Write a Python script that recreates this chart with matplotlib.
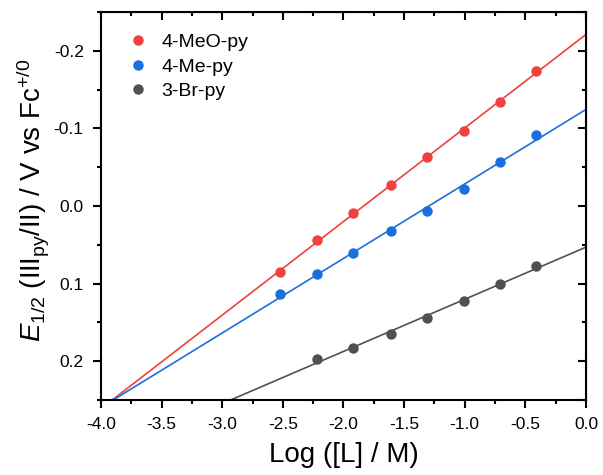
import numpy as np
import matplotlib
matplotlib.use('Agg')
import matplotlib.pyplot as plt
from matplotlib.ticker import MultipleLocator

plt.rcParams['font.family'] = ['Liberation Sans', 'DejaVu Sans']
plt.rcParams['mathtext.fontset'] = 'custom'
plt.rcParams['mathtext.rm'] = 'Liberation Sans'
plt.rcParams['mathtext.it'] = 'Liberation Sans:italic'
plt.rcParams['mathtext.bf'] = 'Liberation Sans:bold'

# log of ligand concentration
log_L = [-2.52, -2.22, -1.92, -1.61, -1.31, -1.01, -0.71, -0.41]

# half-wave potentials (V vs Fc+/0)
e_meo = [0.085, 0.044, 0.009, -0.027, -0.063, -0.097, -0.134, -0.174]
e_me = [0.113, 0.088, 0.061, 0.032, 0.006, -0.022, -0.057, -0.092]
e_br = [0.197, 0.183, 0.165, 0.144, 0.123, 0.100, 0.077]
log_L_br = log_L[1:]

series = [
    ('4-MeO-py', log_L, e_meo, '#F14040'),
    ('4-Me-py', log_L, e_me, '#1A6FDF'),
    ('3-Br-py', log_L_br, e_br, '#515151'),
]

fig = plt.figure(figsize=(6.03, 4.75), dpi=100)
ax = fig.add_axes([0.1675, 0.158, 0.8043, 0.8167])

xfit = np.linspace(-4.0, 0.0, 200)
for name, x, y, c in series:
    slope, icpt = np.polyfit(x, y, 1)
    ax.plot(xfit, slope * xfit + icpt, color=c, lw=1.2, zorder=2)
    ax.plot(x, y, 'o', color=c, ms=7.5, mec='none', label=name, zorder=3)

ax.set_xlim(-4.0, 0.0)
ax.set_ylim(0.25, -0.25)
ax.xaxis.set_major_locator(MultipleLocator(0.5))
ax.xaxis.set_minor_locator(MultipleLocator(0.25))
ax.yaxis.set_major_locator(MultipleLocator(0.1))
ax.yaxis.set_minor_locator(MultipleLocator(0.05))
ax.xaxis.set_major_formatter(plt.FuncFormatter(lambda v, p: f'{v:.1f}'))
ax.yaxis.set_major_formatter(plt.FuncFormatter(lambda v, p: f'{v:.1f}'))

for s in ax.spines.values():
    s.set_linewidth(1.5)
ax.tick_params(which='both', direction='out', width=1.5, labelsize=12.5,
               top=False, right=False)
ax.tick_params(which='major', length=5.5, pad=7)
ax.tick_params(which='minor', length=3)

# mirrored inward ticks on top and right
axt = ax.secondary_xaxis('top')
axt.xaxis.set_major_locator(MultipleLocator(0.5))
axt.xaxis.set_minor_locator(MultipleLocator(0.25))
axt.tick_params(which='both', direction='in', width=1.5, labeltop=False)
axt.tick_params(which='major', length=5.5)
axt.tick_params(which='minor', length=3)
axr = ax.secondary_yaxis('right')
axr.yaxis.set_major_locator(MultipleLocator(0.1))
axr.yaxis.set_minor_locator(MultipleLocator(0.05))
axr.tick_params(which='both', direction='in', width=1.5, labelright=False)
axr.tick_params(which='major', length=5.5)
axr.tick_params(which='minor', length=3)

ax.set_xlabel('Log ([L] / M)', fontsize=20, labelpad=7)
ax.set_ylabel(r'$E_{1/2}$ (III$_{\mathrm{py}}$/II) / V vs Fc$^{+/0}$',
              fontsize=20, labelpad=2)
ax.yaxis.label.set_y(0.515)

ax.legend(loc='upper left', frameon=False, fontsize=14, handletextpad=0.7,
          borderaxespad=0.5, labelspacing=0.36, handlelength=1.0,
          bbox_to_anchor=(0.02, 0.99))

fig.savefig('out.png', dpi=100)
